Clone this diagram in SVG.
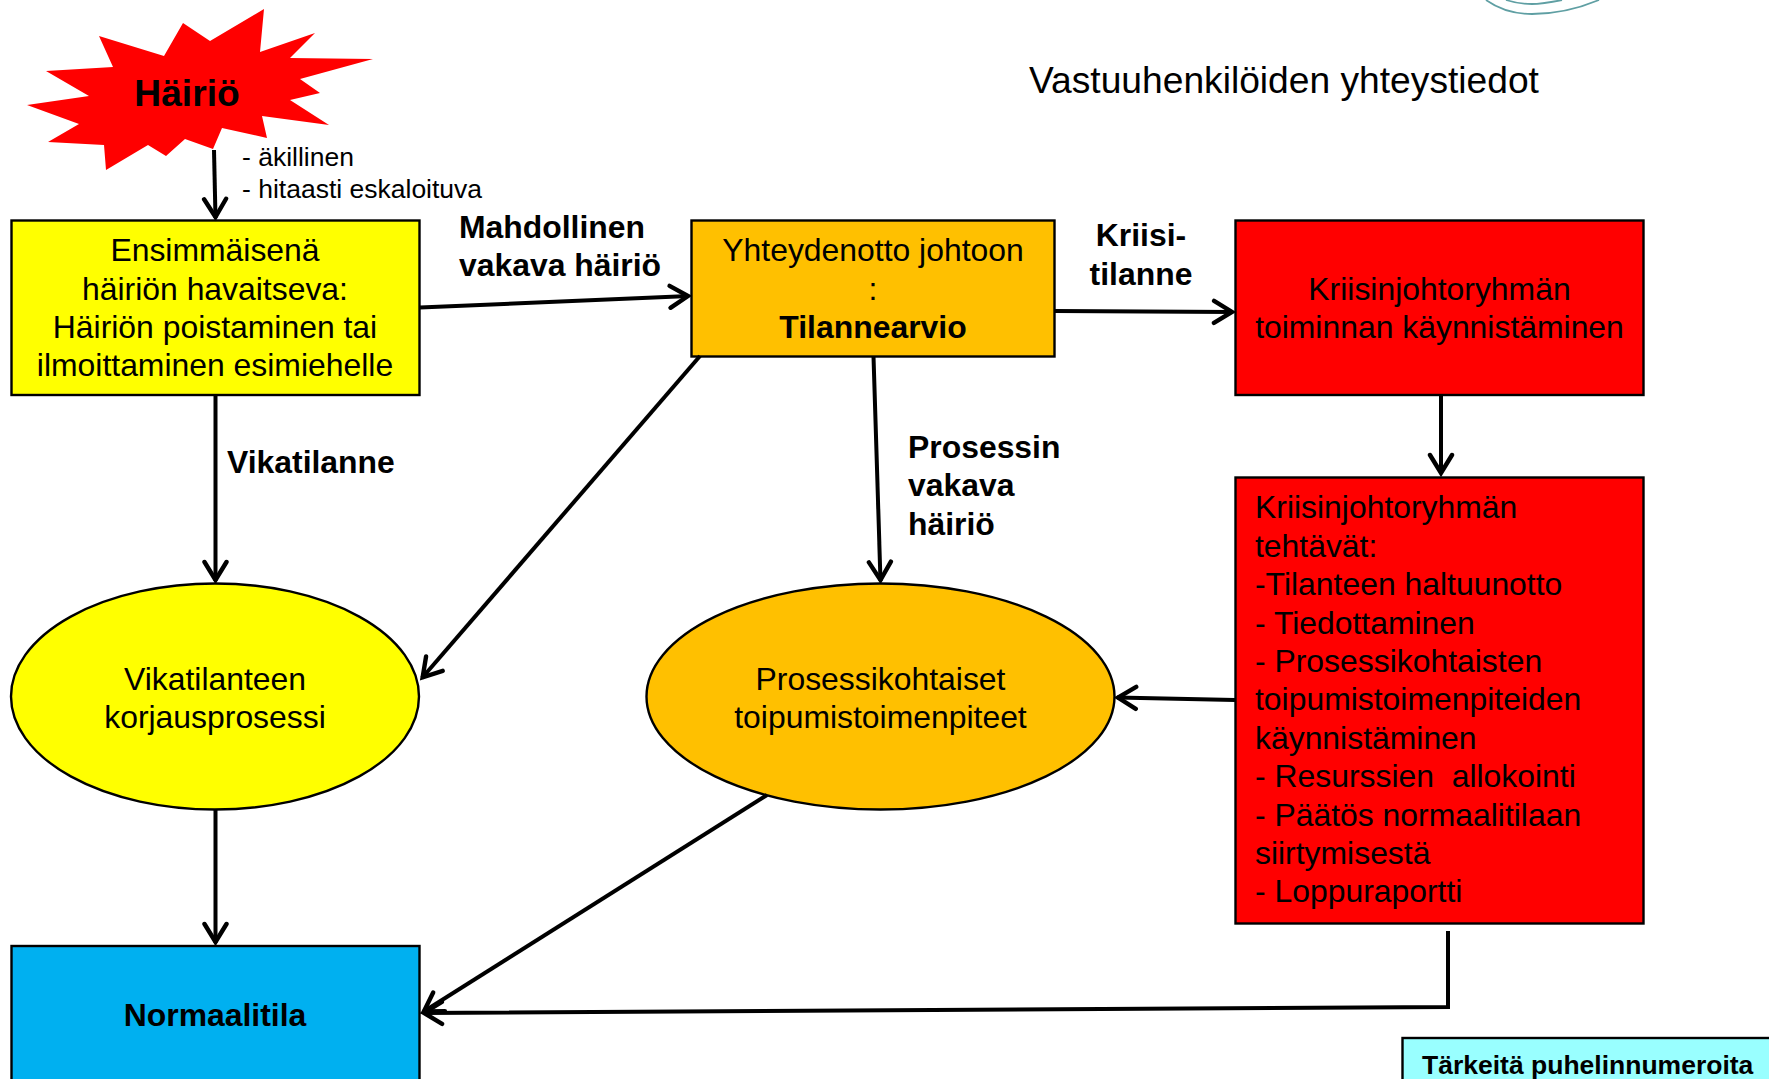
<svg xmlns="http://www.w3.org/2000/svg" width="1769" height="1079" viewBox="0 0 1769 1079">
<style>
text{font-family:"Liberation Sans",Arial,sans-serif;fill:#000;font-size:31.9px}
.m{text-anchor:middle}
.b{font-weight:700}
.t{font-size:26.5px}
.h{font-size:37.2px}
.s{stroke:#000;stroke-width:2.4}
.c{fill:none;stroke:#000;stroke-width:4}
</style>
<defs><marker id="a" markerUnits="userSpaceOnUse" markerWidth="28" markerHeight="28" refX="22" refY="14" orient="auto"><path d="M3 3L21 14L3 25" fill="none" stroke="#000" stroke-width="4.4" stroke-linecap="round"/></marker></defs>
<rect width="1769" height="1079" fill="#fff"/>
<g id="deco" fill="none" stroke="#5f9fa3" stroke-width="1.8"><path d="M1486 0C1500 10 1517 14 1532 14C1555 14 1580 8 1599 0"/><path d="M1506 0C1515 3 1525 4 1532 4C1542 4 1552 2 1562 0"/></g>
<text class="h" x="1029" y="93">Vastuuhenkilöiden yhteystiedot</text>
<g id="hairio"><polygon fill="#f00" points="264,9 260,52 315,33 290,58 373,59 300,79 320,93 290,100 329,125 262,116 267,138 222,128 213,149 185,139 166,156 148,145 106,170 104,145 48,142 79,124 27,105 89,96 46,71 113,67 99,36 164,56 183,23 210,41"/><text class="m b h" x="187" y="106">Häiriö</text></g>
<text class="t" x="242" y="165.500">- äkillinen</text>
<text class="t" x="242" y="197.500">- hitaasti eskaloituva</text>
<g id="ensimmainen"><rect class="s" x="11.5" y="220.5" width="408" height="174.5" fill="#ff0"/><text class="m" x="215" y="261">Ensimmäisenä</text><text class="m" x="215" y="300">häiriön havaitseva:</text><text class="m" x="215" y="338">Häiriön poistaminen tai</text><text class="m" x="215" y="376">ilmoittaminen esimiehelle</text></g>
<g id="yhteydenotto"><rect class="s" x="691.5" y="220.5" width="363" height="136" fill="#ffc000"/><text class="m" x="873" y="261">Yhteydenotto johtoon</text><text class="m" x="873" y="300">:</text><text class="m b" x="873" y="338">Tilannearvio</text></g>
<g id="kriisi1"><rect class="s" x="1235.5" y="220.5" width="408" height="174.5" fill="#f00"/><text class="m" x="1439.5" y="300">Kriisinjohtoryhmän</text><text class="m" x="1439.5" y="338">toiminnan käynnistäminen</text></g>
<g id="kriisi2"><rect class="s" x="1235.5" y="477.5" width="408" height="446" fill="#f00"/>
<text x="1255" y="518">Kriisinjohtoryhmän</text><text x="1255" y="557">tehtävät:</text><text x="1255" y="595">-Tilanteen haltuunotto</text><text x="1255" y="634">- Tiedottaminen</text><text x="1255" y="672">- Prosessikohtaisten</text><text x="1255" y="710">toipumistoimenpiteiden</text><text x="1255" y="749">käynnistäminen</text><text x="1255" y="787" xml:space="preserve">- Resurssien  allokointi</text><text x="1255" y="826">- Päätös normaalitilaan</text><text x="1255" y="864">siirtymisestä</text><text x="1255" y="902">- Loppuraportti</text></g>
<g id="vika"><ellipse class="s" cx="215" cy="696.5" rx="204" ry="113" fill="#ff0"/><text class="m" x="215" y="690">Vikatilanteen</text><text class="m" x="215" y="728">korjausprosessi</text></g>
<g id="prosessi"><ellipse class="s" cx="880.5" cy="696.5" rx="234" ry="113" fill="#ffc000"/><text class="m" x="880.5" y="690">Prosessikohtaiset</text><text class="m" x="880.5" y="728">toipumistoimenpiteet</text></g>
<g id="normaali"><rect class="s" x="11.5" y="946" width="408" height="150" fill="#00b0f0"/><text class="m b" x="215" y="1026">Normaalitila</text></g>
<g id="puhelin"><rect class="s" x="1402.5" y="1038" width="380" height="60" fill="#9ff"/><text class="b t" x="1422" y="1074">Tärkeitä puhelinnumeroita</text></g>
<g id="connectors">
<path class="c" marker-end="url(#a)" d="M214 150L215.500 218"/>
<path class="c" marker-end="url(#a)" d="M420 307.500L689 296"/>
<path class="c" marker-end="url(#a)" d="M1055 311L1233 312"/>
<path class="c" marker-end="url(#a)" d="M1441 395V474"/>
<path class="c" marker-end="url(#a)" d="M215.500 395V581"/>
<path class="c" marker-end="url(#a)" d="M873.500 356L880.500 581"/>
<path class="c" marker-end="url(#a)" d="M700 356L422 678"/>
<path class="c" marker-end="url(#a)" d="M1235 700L1117 697.500"/>
<path class="c" marker-end="url(#a)" d="M215.500 809V943"/>
<path class="c" marker-end="url(#a)" d="M767 795L423 1012"/>
<path class="c" marker-end="url(#a)" d="M1448 931V1007L423 1013"/>
</g>
<g id="labels">
<text class="b" x="459" y="238">Mahdollinen</text><text class="b" x="459" y="276">vakava häiriö</text>
<text class="b m" x="1141" y="246">Kriisi-</text><text class="b m" x="1141" y="285">tilanne</text>
<text class="b" x="227" y="473">Vikatilanne</text>
<text class="b" x="908" y="458">Prosessin</text><text class="b" x="908" y="496">vakava</text><text class="b" x="908" y="535">häiriö</text>
</g>
</svg>
